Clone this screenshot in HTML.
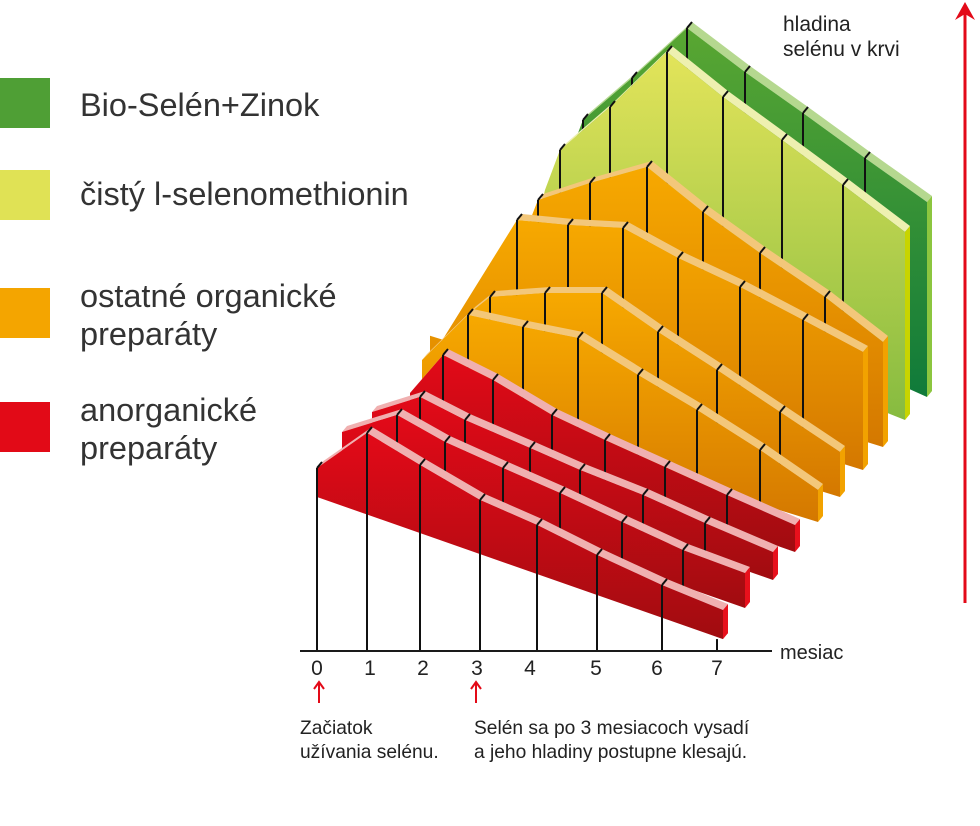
<!DOCTYPE html>
<html><head><meta charset="utf-8"><style>
html,body{margin:0;padding:0;background:#fff;}
body{width:980px;height:821px;overflow:hidden;position:relative;font-family:"Liberation Sans",sans-serif;}
</style></head><body>
<svg id="s" width="980" height="821" viewBox="0 0 980 821" xmlns="http://www.w3.org/2000/svg">
<defs>
<linearGradient id="gR" x1="0" y1="0" x2="0" y2="1"><stop offset="0" stop-color="#e30a18"/><stop offset="1" stop-color="#a00c10"/></linearGradient>
<linearGradient id="gO" x1="0" y1="0" x2="0" y2="1"><stop offset="0" stop-color="#f7a900"/><stop offset="1" stop-color="#d47800"/></linearGradient>
<linearGradient id="gL" x1="0" y1="0" x2="0" y2="1"><stop offset="0" stop-color="#e3e45a"/><stop offset="1" stop-color="#86bb40"/></linearGradient>
<linearGradient id="gG" x1="0" y1="0" x2="0" y2="1"><stop offset="0" stop-color="#5aa732"/><stop offset="1" stop-color="#0f7a3a"/></linearGradient>
</defs>
<g id="rib"></g>
<line x1="300" y1="651" x2="772" y2="651" stroke="#1a1a1a" stroke-width="2"/>
<g font-size="21" fill="#222" text-anchor="middle">
<text x="317" y="675">0</text><text x="370" y="675">1</text><text x="423" y="675">2</text><text x="477" y="675">3</text><text x="530" y="675">4</text><text x="596" y="675">5</text><text x="657" y="675">6</text><text x="717" y="675">7</text>
</g>
<text x="780" y="659" font-size="20" fill="#222">mesiac</text>
<g stroke="#e30a18" stroke-width="2" fill="none"><line x1="319" y1="703" x2="319" y2="683"/><polyline points="314,689 319,682 324,689"/><line x1="476" y1="703" x2="476" y2="683"/><polyline points="471,689 476,682 481,689"/></g>
<g font-size="19.2" fill="#222"><text x="300" y="734">Začiatok</text><text x="300" y="758">užívania selénu.</text><text x="474" y="734">Selén sa po 3 mesiacoch vysadí</text><text x="474" y="758">a jeho hladiny postupne klesajú.</text></g>
<g font-size="21" fill="#222"><text x="783" y="31">hladina</text><text x="783" y="56">selénu v krvi</text></g>
<line x1="965" y1="603" x2="965" y2="12" stroke="#e30a18" stroke-width="3"/>
<polygon points="955,20 965,2 975,20 965,14" fill="#e30a18"/>
<rect x="0" y="78" width="50" height="50" fill="#4f9f35"/>
<rect x="0" y="170" width="50" height="50" fill="#e0e255"/>
<rect x="0" y="288" width="50" height="50" fill="#f4a500"/>
<rect x="0" y="402" width="50" height="50" fill="#e20a17"/>
<g font-size="32.5" fill="#333"><text x="80" y="116">Bio-Selén+Zinok</text><text x="80" y="205">čistý l-selenomethionin</text><text x="80" y="307">ostatné organické</text><text x="80" y="345">preparáty</text><text x="80" y="421">anorganické</text><text x="80" y="459">preparáty</text></g>
</svg>
<script>
var NS="http://www.w3.org/2000/svg",g=document.getElementById("rib");
function el(t,a){var e=document.createElementNS(NS,t);for(var k in a)e.setAttribute(k,a[k]);g.appendChild(e);return e;}
function rib(pts,bx,by,sl,fill,top,cap,lineStart,front){
 var yb=function(x){return by+sl*(x-bx);};
 var dx=5,dy=-6,n=pts.length,xl=pts[0][0],xr=pts[n-1][0];
 var tf=[];for(var i=0;i<n;i++)tf.push(pts[i]);for(i=n-1;i>=0;i--)tf.push([pts[i][0]+dx,pts[i][1]+dy]);
 el("polygon",{points:tf.map(function(p){return p.join(",")}).join(" "),fill:top});
 el("polygon",{points:[[xr,pts[n-1][1]],[xr+dx,pts[n-1][1]+dy],[xr+dx,yb(xr)+dy],[xr,yb(xr)]].map(function(p){return p.join(",")}).join(" "),fill:cap});
 var f=pts.slice();f.push([xr,yb(xr)]);f.push([xl,yb(xl)]);
 el("polygon",{points:f.map(function(p){return p.join(",")}).join(" "),fill:fill});
 for(i=lineStart;i<n-1;i++){var p=pts[i];
  el("line",{x1:p[0],y1:p[1],x2:p[0],y2:front?651:yb(p[0]),stroke:"#111","stroke-width":2});
  el("line",{x1:p[0],y1:p[1],x2:p[0]+dx,y2:p[1]+dy,stroke:"#111","stroke-width":2});}
 if(front){var p=pts[n-1];el("line",{x1:p[0]-6,y1:yb(p[0]),x2:p[0]-6,y2:651,stroke:"#111","stroke-width":2});}
}
rib([[545,220],[583,120],[632,78],[687,28],[745,72],[803,113],[865,158],[927,202]],927,397,0.45,"url(#gG)","#b5d88f","#8cc63f",1);
rib([[520,300],[545,190],[560,150],[610,107],[667,52],[723,97],[782,140],[843,185],[905,232]],905,420,0.4,"url(#gL)","#eef0b0","#c8d400",2);
rib([[505,285],[538,200],[590,183],[647,167],[703,212],[760,253],[825,297],[883,342]],883,447,0.31,"url(#gO)","#f3c77a","#f2a200",1);
rib([[430,360],[517,220],[568,225],[623,228],[678,258],[740,287],[803,320],[863,352]],863,470,0.31,"url(#gO)","#f3c77a","#f2a200",1);
rib([[470,313],[490,297],[545,293],[602,293],[658,332],[717,370],[780,412],[840,452]],840,497,0.31,"url(#gO)","#f3c77a","#f2a200",1);
rib([[422,360],[468,315],[523,327],[578,338],[638,375],[697,410],[760,450],[818,490]],818,522,0.31,"url(#gO)","#f3c77a","#f2a200",1);
rib([[410,393],[443,355],[493,380],[552,415],[605,440],[665,467],[727,495],[795,525]],795,552,0.35,"url(#gR)","#f0b0b0","#e8101c",1);
rib([[372,412],[420,397],[465,420],[530,448],[580,470],[643,495],[705,523],[773,552]],773,580,0.35,"url(#gR)","#f0b0b0","#e8101c",1);
rib([[342,432],[397,415],[445,442],[503,468],[560,493],[622,522],[683,550],[745,573]],745,608,0.35,"url(#gR)","#f0b0b0","#e8101c",1);
rib([[317,468],[367,433],[420,465],[480,500],[537,525],[597,555],[662,585],[723,610]],317,497,0.35,"url(#gR)","#f0b0b0","#e8101c",0,true);
</script>
</body></html>
